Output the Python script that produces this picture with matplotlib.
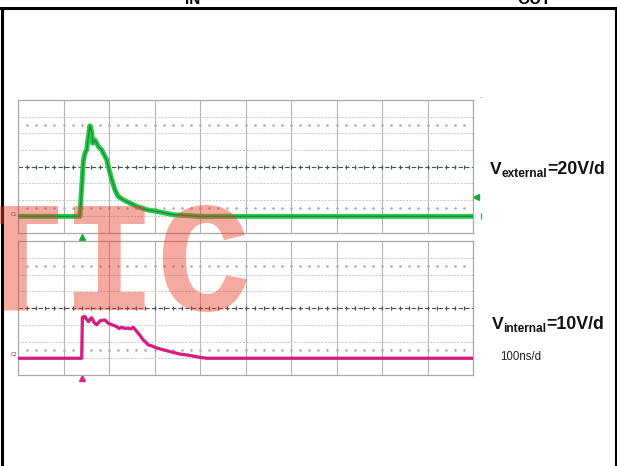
import matplotlib
matplotlib.use("Agg")
import matplotlib.pyplot as plt
import numpy as np
from matplotlib.lines import Line2D

W, H = 617, 466
DPI = 100

# ---- data ----
# external voltage, 20 V/div, time in ns (100 ns/div)
t_ext = [0, 60, 136, 143.5, 147, 151, 154.5, 158, 162, 164, 169, 173, 176.5,
         184, 187.5, 195, 198.5, 206, 213, 220, 231, 246, 261, 283, 305, 341,
         400, 1000]
v_ext = [0, 0, 0, 66, 76, 80, 96, 109, 102, 88, 92, 88, 84,
         80, 76, 68, 60, 44, 32, 24, 20, 16, 12, 8, 6, 2,
         0, 0]
# internal voltage, 10 V/div
t_int = [0, 60, 140, 141.5, 147, 150, 155, 159, 162, 167, 173, 181, 191, 198,
         206, 212, 217, 222, 228, 235, 242, 248, 253, 258, 264, 270, 275, 281,
         286, 293, 301, 313, 327, 341, 356, 370, 385, 400, 415, 1000]
v_int = [0, 0, 0, 24.4, 25.0, 23.5, 21.8, 23.5, 24.2, 21.5, 20.0, 22.5, 22.8, 21.0,
         20.0, 19.5, 18.8, 17.8, 18.5, 17.8, 18.0, 17.5, 18.5, 17.0, 15.0, 13.0, 11.0, 9.5,
         8.0, 7.5, 6.5, 5.5, 4.5, 3.5, 2.5, 2.0, 1.3, 0.5, 0.0, 0.0]

ext_vdiv = 20
int_vdiv = 10
time_div = 100

fig = plt.figure(figsize=(W / DPI, H / DPI), dpi=DPI)
fig.patch.set_facecolor("white")


def px_rect(x0, y0, x1, y1):
    return [x0 / W, (H - y1) / H, (x1 - x0) / W, (y1 - y0) / H]


def setup_scope(ax, vdiv, center_col):
    ylo, yhi = -vdiv, 7 * vdiv
    ax.set_xlim(0, 10 * time_div)
    ax.set_ylim(ylo, yhi)
    ax.set_xticks([])
    ax.set_yticks([])
    for s in ax.spines.values():
        s.set_color("#a8a8a8")
        s.set_linewidth(0.9)
    for k in range(1, 10):
        ax.axvline(k * time_div, color="#b4b4b4", lw=0.8, zorder=1)
    for k in range(1, 8):
        y = ylo + k * vdiv
        if k == 4:
            continue
        ax.axhline(y, color="#c6c6c6", lw=0.7, ls=(0, (2, 1.5)), zorder=1)
    yc = ylo + 4 * vdiv
    ax.axhline(yc, color=center_col, lw=0.8, ls=(0, (4, 2)), zorder=1)
    xs = np.arange(20, 10 * time_div, 20)
    ax.plot(xs, [yc] * len(xs), ls="none", marker="|", ms=3.5, mew=0.9,
            color=center_col, zorder=1)
    for dy in (2.5, -2.5):
        ax.plot(xs, [yc + dy * vdiv] * len(xs), ls="none", marker="o", ms=0.9,
                color="#b0b0b0", zorder=1)


ax1 = fig.add_axes(px_rect(18, 100, 473, 233))
setup_scope(ax1, ext_vdiv, "#3d5a48")
ax1.plot(t_ext, v_ext, color="#22cc4c", lw=3.6, solid_joinstyle="round", zorder=3)
ax1.plot(t_ext, v_ext, color="#2f7033", lw=1.0, alpha=0.8, zorder=4)
ax1.plot([141], [-24.5], marker="^", ms=5, color="#1aa83a", clip_on=False, ls="none")
ax1.plot([1007], [23], marker="<", ms=5, color="#1aa83a", clip_on=False, ls="none")
ax1.plot([1018], [0], marker="|", ms=5, color="#22cc4c", clip_on=False, ls="none")
ax1.text(-2, 2, "C1", fontsize=3.5, color="#3a6a3a", ha="right", va="center",
         clip_on=False)

ax2 = fig.add_axes(px_rect(18, 241, 473, 375))
setup_scope(ax2, int_vdiv, "#505050")
ax2.plot(t_int, v_int, color="#e0248a", lw=2.4, zorder=3)
ax2.plot(t_int, v_int, color="#b8166f", lw=0.7, alpha=0.7, zorder=4)
ax2.plot([141], [-11.8], marker="^", ms=4.5, color="#e0248a", clip_on=False, ls="none")
ax2.text(-2, 2, "C2", fontsize=3.5, color="#b0206a", ha="right", va="center",
         clip_on=False)

# small mark at top right of upper screen
fig.text(481 / W, (H - 97) / H, "-", fontsize=5, color="#777777", ha="center", va="center")

# figure border (top, left, right)
for (x0, y0, x1, y1) in [(0, 7.5, W, 7.5), (1.5, 7.5, 1.5, H), (615.5, 7.5, 615.5, H)]:
    fig.add_artist(Line2D([x0 / W, x1 / W], [(H - y0) / H, (H - y1) / H],
                          transform=fig.transFigure, color="black", lw=2.2))

# clipped caption fragments at the very top
fig.text(185 / W, (H - 4) / H, "IN", fontsize=11, weight="bold",
         family="Liberation Sans", ha="left", va="baseline")
fig.text(517 / W, (H - 4) / H, "OUT", fontsize=11.5, weight="bold",
         family="Liberation Sans", ha="left", va="baseline")

renderer = fig.canvas.get_renderer()


def rich(parts, x, y):
    for s, size, dy, weight in parts:
        t = fig.text(x / W, (H - (y + dy)) / H, s, fontsize=size, weight=weight,
                     family="Liberation Sans", ha="left", va="baseline",
                     color="#111111")
        bb = t.get_window_extent(renderer)
        x = bb.x1


rich([("V", 12.6, 0, "bold"), ("external", 8.6, 3, "bold"),
      ("=20V/d", 12.8, 0, "bold")], 490, 174)
rich([("V", 12.6, 0, "bold"), ("internal", 8.6, 3, "bold"),
      ("=10V/d", 12.8, 0, "bold")], 492, 329)
fig.text(500 / W, (H - 360) / H, "100ns/d", fontsize=8.3,
         family="Liberation Sans", ha="left", va="baseline", color="#222222")

# watermark
fig.text(-33 / W, (H - 310) / H, "TIC", fontsize=113.8, weight="bold",
         family="Liberation Mono", color="#e8402f", alpha=0.45,
         ha="left", va="baseline", zorder=10)

fig.savefig("out.png", dpi=DPI)
